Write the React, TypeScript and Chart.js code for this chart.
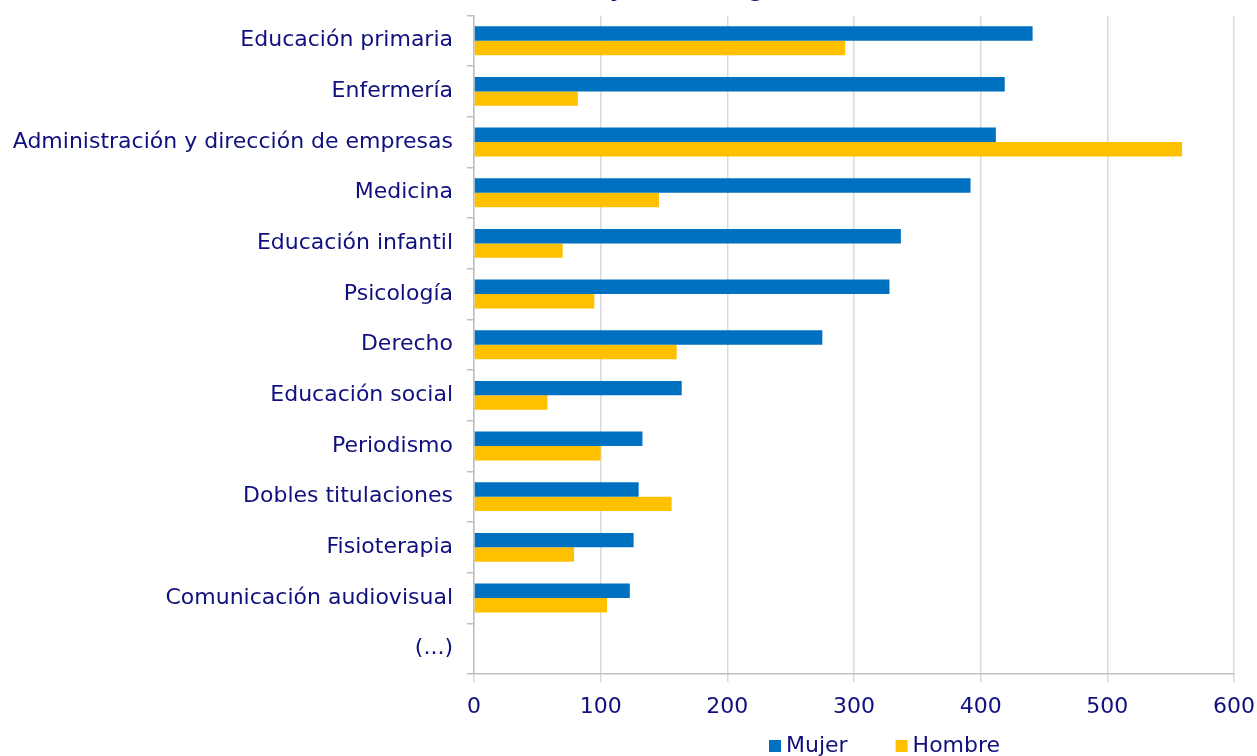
import React, { useEffect, useRef } from "react";
import { Chart, registerables } from "chart.js";

Chart.register(...registerables);

const categories = [
  "Educación primaria",
  "Enfermería",
  "Administración y dirección de empresas",
  "Medicina",
  "Educación infantil",
  "Psicología",
  "Derecho",
  "Educación social",
  "Periodismo",
  "Dobles titulaciones",
  "Fisioterapia",
  "Comunicación audiovisual",
  "(...)",
];

const mujerValues = [441, 419, 412, 392, 337, 328, 275, 164, 133, 130, 126, 123, null];
const hombreValues = [293, 82, 559, 146, 70, 95, 160, 58, 100, 156, 79, 105, null];

const titleText = "Titulados: sexo y rama del grado";

const TEXT = "#10107f";
const FONT = "'DejaVu Sans', Verdana, sans-serif";
const OFFSET_TOP = 40;
const CANVAS_H = 808;

const legendPlugin = {
  id: "customLegend",
  afterDraw(chart: any) {
    const ctx = chart.ctx;
    const y = OFFSET_TOP + 746;
    let x = 769;
    ctx.save();
    ctx.font = `22px ${FONT}`;
    ctx.textBaseline = "middle";
    ctx.textAlign = "left";
    chart.data.datasets.forEach((ds: any) => {
      ctx.fillStyle = ds.backgroundColor;
      ctx.fillRect(x, y - 6, 12, 12);
      ctx.fillStyle = TEXT;
      ctx.fillText(ds.label, x + 17, y);
      x += 17 + ctx.measureText(ds.label).width + 48;
    });
    ctx.restore();
  },
};

export default function App() {
  const ref = useRef<HTMLCanvasElement | null>(null);

  useEffect(() => {
    if (!ref.current) return;
    const chart = new Chart(ref.current, {
      type: "bar",
      data: {
        labels: categories,
        datasets: [
          {
            label: "Mujer",
            data: mujerValues,
            backgroundColor: "#0070C0",
            barPercentage: 1,
            categoryPercentage: 0.57,
          },
          {
            label: "Hombre",
            data: hombreValues,
            backgroundColor: "#FFC000",
            barPercentage: 1,
            categoryPercentage: 0.57,
          },
        ],
      },
      plugins: [legendPlugin],
      options: {
        indexAxis: "y",
        animation: false,
        responsive: false,
        maintainAspectRatio: false,
        layout: { padding: { left: 0, right: 23, top: 0, bottom: 44 } },
        plugins: {
          title: {
            display: true,
            text: titleText,
            color: TEXT,
            font: { family: FONT, size: 22, weight: "bold" },
            padding: { top: 18, bottom: 11 },
          },
          legend: { display: false },
          tooltip: { enabled: false },
        },
        scales: {
          x: {
            min: 0,
            max: 600,
            ticks: {
              stepSize: 100,
              color: TEXT,
              font: { family: FONT, size: 22 },
              padding: 12,
            },
            grid: {
              color: "#d9d9d9",
              lineWidth: 1.5,
              tickLength: 8,
            },
            border: { color: "#bfbfbf", width: 1.5 },
            afterFit: (scale: any) => {
              scale.height = 50;
              scale.paddingRight = 0;
              scale.paddingLeft = 0;
            },
          },
          y: {
            ticks: {
              color: TEXT,
              font: { family: FONT, size: 22 },
              padding: 14,
            },
            grid: {
              offset: true,
              drawOnChartArea: false,
              color: "#bfbfbf",
              lineWidth: 1.5,
              tickLength: 7,
            },
            border: { color: "#bfbfbf", width: 1.5 },
            afterFit: (scale: any) => {
              scale.width = 474;
            },
          },
        },
      },
    });
    return () => chart.destroy();
  }, []);

  return (
    <div
      style={{
        position: "fixed",
        top: 0,
        left: 0,
        width: "100vw",
        height: "100vh",
        overflow: "hidden",
        background: "#fff",
      }}
    >
      <canvas
        ref={ref}
        width={1257}
        height={CANVAS_H}
        style={{ position: "absolute", top: -OFFSET_TOP, left: 0, width: 1257, height: CANVAS_H }}
      />
    </div>
  );
}
